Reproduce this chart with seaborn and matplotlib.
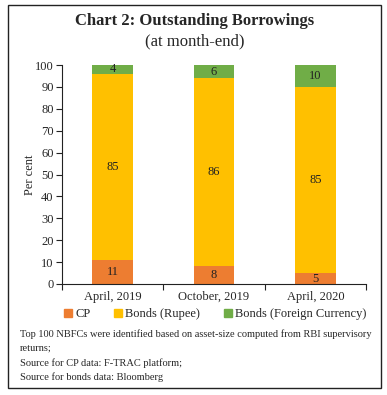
import matplotlib
matplotlib.use("Agg")
import matplotlib.pyplot as plt
import seaborn as sns
import numpy as np
from matplotlib.patches import Rectangle
from matplotlib.lines import Line2D

categories = ["April, 2019", "October, 2019", "April, 2020"]
cp = [11, 8, 5]
bonds_rupee = [85, 86, 85]
bonds_foreign = [4, 6, 10]
series_names = ["CP", "Bonds (Rupee)", "Bonds (Foreign Currency)"]
colors = ["#ED7D31", "#FFC000", "#70AD47"]
yticks = list(range(0, 101, 10))

sns.set_theme(style="white")
plt.rcParams['font.family'] = ['Liberation Serif', 'DejaVu Serif']

fig = plt.figure(figsize=(3.87, 3.95), dpi=100)
W, H = 387, 395
ax = fig.add_axes([62 / W, 1 - 284 / H, (366 - 62) / W, (284 - 65) / H])

series = [cp, bonds_rupee, bonds_foreign]
bottom = np.zeros(len(categories))
for vals, name, col in zip(series, series_names, colors):
    sns.barplot(x=categories, y=vals, bottom=bottom, color=col, width=0.4,
                saturation=1, ax=ax, linewidth=0)
    for i, v in enumerate(vals):
        ax.text(i, bottom[i] + v / 2, str(v), ha="center", va="center",
                fontsize=9, color="#222222")
    bottom = bottom + np.array(vals)

ax.set_ylim(0, 100)
ax.set_xlim(-0.5, len(categories) - 0.5)
ax.set_yticks(yticks)
ax.set_yticklabels([str(t) for t in yticks], fontsize=9)
ax.set_xticks(range(len(categories)))
ax.set_xticklabels(categories, fontsize=9)
ax.set_xticks(np.arange(-0.5, len(categories), 1.0), minor=True)
ax.tick_params(axis="x", which="major", length=0, pad=5, bottom=True)
ax.tick_params(axis="x", which="minor", length=4, width=0.8, direction="out",
               color="#222222", bottom=True)
ax.tick_params(axis="y", length=4, width=0.8, direction="out", color="#222222",
               pad=2, left=True)
ax.set_ylabel("Per cent", fontsize=9, labelpad=-1)
ax.set_xlabel("")
for s in ["top", "right"]:
    ax.spines[s].set_visible(False)
for s in ["left", "bottom"]:
    ax.spines[s].set_color("#222222")
    ax.spines[s].set_linewidth(0.8)

handles = [Line2D([0], [0], marker="s", linestyle="", markersize=6,
                  markerfacecolor=c, markeredgecolor=c) for c in colors]
fig.legend(handles, series_names, loc="center", bbox_to_anchor=(214 / W, 1 - 314 / H),
           ncol=3, frameon=False, fontsize=9, handletextpad=0.1, columnspacing=1.7,
           handlelength=1.0)

fig.text(195 / W, 1 - 21 / H, "Chart 2: Outstanding Borrowings", ha="center", va="center",
         fontsize=12, fontweight="bold")
fig.text(195 / W, 1 - 41 / H, "(at month-end)", ha="center", va="center", fontsize=12)

notes = ["Top 100 NBFCs were identified based on asset-size computed from RBI supervisory",
         "returns;",
         "Source for CP data: F-TRAC platform;",
         "Source for bonds data: Bloomberg"]
for i, line in enumerate(notes):
    fig.text(20 / W, 1 - (334 + i * 14.5) / H, line, ha="left", va="center", fontsize=7.5)

fig.patches.append(Rectangle((8 / W, 1 - 388 / H), (381 - 8) / W, (388 - 5) / H,
                             transform=fig.transFigure, fill=False,
                             edgecolor="#222222", linewidth=1.0))

fig.savefig("out.png", dpi=100)
